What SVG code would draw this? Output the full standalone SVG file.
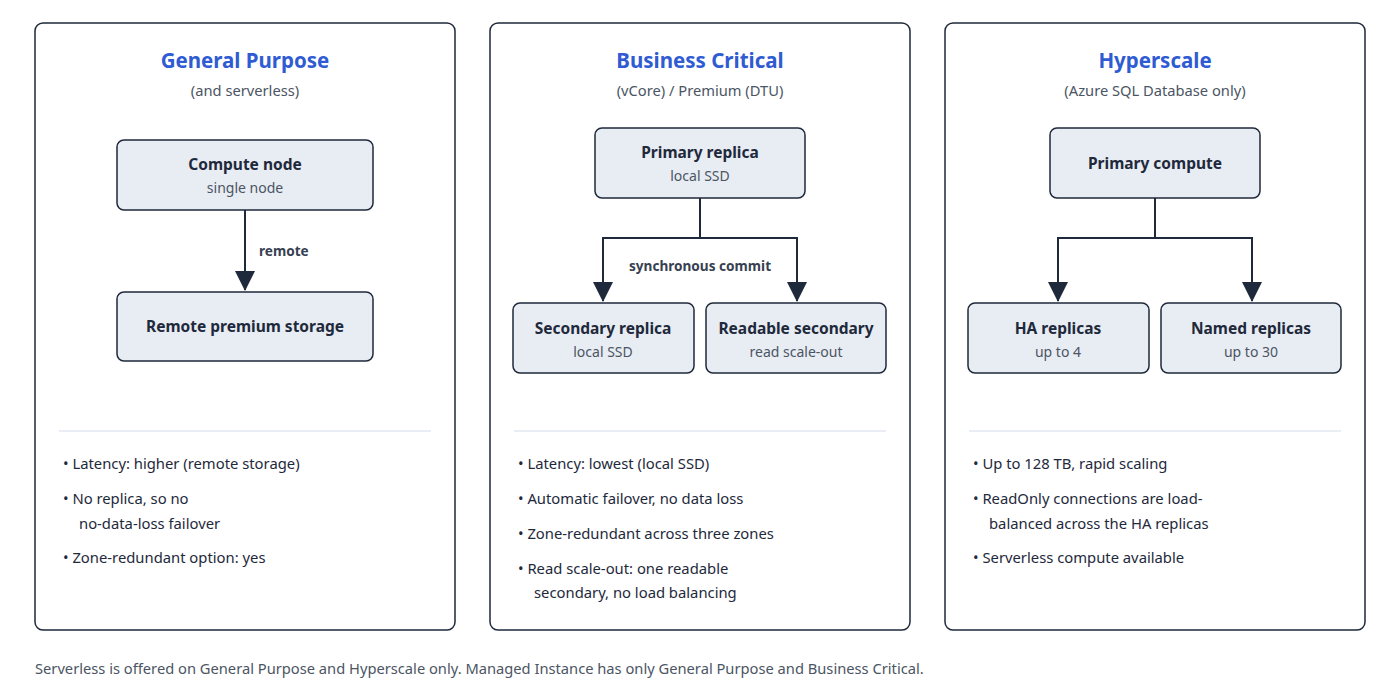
<svg xmlns="http://www.w3.org/2000/svg" width="1400" height="700" viewBox="0 0 1400 700">
<defs>
<style>
text{font-family:"Noto Sans","Open Sans","Liberation Sans",sans-serif;}
.panel{fill:#fff;stroke:#1e293b;stroke-width:1.5}
.title{font-size:20.5px;font-weight:700;fill:#2f5bd3;text-anchor:middle}
.sub{font-size:14.7px;fill:#4b5563;text-anchor:middle}
.node{fill:#e8ecf3;stroke:#1e293b;stroke-width:1.5}
.nt{font-size:15.5px;font-weight:700;fill:#1e293b;text-anchor:middle}
.ns{font-size:14px;fill:#4b5563;text-anchor:middle}
.sep{stroke:#e2e8f0;stroke-width:1.5}
.b{font-size:14.8px;fill:#1e293b}
.lbl{font-size:13.6px;font-weight:700;fill:#374151}
.c{fill:none;stroke:#1e293b;stroke-width:2}
</style>
<marker id="ah2" viewBox="0 0 20 20" refX="19" refY="10" markerWidth="20" markerHeight="20" markerUnits="userSpaceOnUse" orient="auto"><path d="M0,0L20,10L0,20z" fill="#1e293b"/></marker>
</defs>
<rect width="1400" height="700" fill="#fff"/>
<g id="panel-gp">
<rect class="panel" x="35" y="23" width="420" height="607" rx="8"/>
<text class="title" x="245" y="68">General Purpose</text>
<text class="sub" x="245" y="96">(and serverless)</text>
<line class="sep" x1="59" y1="431" x2="431" y2="431"/>
<text class="b" x="63" y="469">• Latency: higher (remote storage)</text>
<text class="b" x="63" y="504">• No replica, so no</text>
<text class="b" x="79" y="529">no-data-loss failover</text>
<text class="b" x="63" y="563">• Zone-redundant option: yes</text>
</g>
<g id="node-compute"><rect class="node" x="117" y="140" width="256" height="70" rx="7"/><text class="nt" x="245" y="170">Compute node</text><text class="ns" x="245" y="193">single node</text></g>
<g id="node-storage"><rect class="node" x="117" y="292" width="256" height="69" rx="7"/><text class="nt" x="245" y="332">Remote premium storage</text></g>
<g id="panel-bc">
<rect class="panel" x="490" y="23" width="420" height="607" rx="8"/>
<text class="title" x="700" y="68">Business Critical</text>
<text class="sub" x="700" y="96">(vCore) / Premium (DTU)</text>
<line class="sep" x1="514" y1="431" x2="886" y2="431"/>
<text class="b" x="518" y="469">• Latency: lowest (local SSD)</text>
<text class="b" x="518" y="504">• Automatic failover, no data loss</text>
<text class="b" x="518" y="539">• Zone-redundant across three zones</text>
<text class="b" x="518" y="574">• Read scale-out: one readable</text>
<text class="b" x="534" y="598">secondary, no load balancing</text>
</g>
<g id="node-primary"><rect class="node" x="595" y="128" width="210" height="70" rx="7"/><text class="nt" x="700" y="158">Primary replica</text><text class="ns" x="700" y="181">local SSD</text></g>
<g id="node-secondary"><rect class="node" x="513" y="303" width="181" height="70" rx="7"/><text class="nt" x="603" y="334">Secondary replica</text><text class="ns" x="603" y="357">local SSD</text></g>
<g id="node-readable"><rect class="node" x="706" y="303" width="180" height="70" rx="7"/><text class="nt" x="796" y="334">Readable secondary</text><text class="ns" x="796" y="357">read scale-out</text></g>
<g id="panel-hs">
<rect class="panel" x="945" y="23" width="420" height="607" rx="8"/>
<text class="title" x="1155" y="68">Hyperscale</text>
<text class="sub" x="1155" y="96">(Azure SQL Database only)</text>
<line class="sep" x1="969" y1="431" x2="1341" y2="431"/>
<text class="b" x="973" y="469">• Up to 128 TB, rapid scaling</text>
<text class="b" x="973" y="504">• ReadOnly connections are load-</text>
<text class="b" x="989" y="529">balanced across the HA replicas</text>
<text class="b" x="973" y="563">• Serverless compute available</text>
</g>
<g id="node-pcompute"><rect class="node" x="1050" y="128" width="210" height="70" rx="7"/><text class="nt" x="1155" y="169">Primary compute</text></g>
<g id="node-ha"><rect class="node" x="968" y="303" width="181" height="70" rx="7"/><text class="nt" x="1058" y="334">HA replicas</text><text class="ns" x="1058" y="357">up to 4</text></g>
<g id="node-named"><rect class="node" x="1161" y="303" width="180" height="70" rx="7"/><text class="nt" x="1251" y="334">Named replicas</text><text class="ns" x="1251" y="357">up to 30</text></g>
<g id="connectors">
<path class="c" d="M245,210V290" marker-end="url(#ah2)"/>
<text class="lbl" x="259" y="256">remote</text>
<path class="c" d="M700,198V238H603V301" marker-end="url(#ah2)"/>
<path class="c" d="M700,238H797V301" marker-end="url(#ah2)"/>
<text class="lbl" x="700" y="271" text-anchor="middle">synchronous commit</text>
<path class="c" d="M1155,198V238H1058V301" marker-end="url(#ah2)"/>
<path class="c" d="M1155,238H1252V301" marker-end="url(#ah2)"/>
</g>
<text x="35" y="674" font-size="14.7" fill="#4b5563">Serverless is offered on General Purpose and Hyperscale only. Managed Instance has only General Purpose and Business Critical.</text>
</svg>
